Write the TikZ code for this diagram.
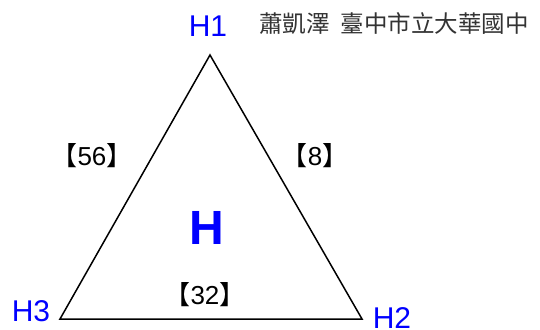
\documentclass[tikz,border=0pt]{standalone}
\usepackage{fontspec}
\setmainfont{Liberation Sans}
\newfontfamily\cjk{Noto Sans CJK TC}
\usetikzlibrary{positioning}

\begin{document}
\begin{tikzpicture}[
    x=1pt, y=-1pt,
    vertex/.style={text=blue, font=\fontsize{30}{32}\selectfont, inner sep=0pt},
    weight/.style={font=\fontsize{26}{28}\selectfont, inner sep=0pt},
    side/.style={line width=1.5pt, line join=miter}
]
\useasboundingbox (0,0) rectangle (540,329);
\coordinate (h1) at (210,55);
\coordinate (h2) at (362,319);
\coordinate (h3) at (60,319);

\node[vertex] (l1) at (208,26) {H1};
\node[vertex] (l2) at (392,318) {H2};
\node[vertex] (l3) at (31,311) {H3};
\node[text=blue, font=\fontsize{48}{50}\selectfont\bfseries, inner sep=0pt] (center) at (207,228) {H};
\node[font=\cjk\fontsize{23.5}{25}\selectfont, text=black!80, inner sep=0pt] (author) at (394,24) {蕭凱澤\ \ 臺中市立大華國中};

\node[weight] (w13) at (92,156) {{\cjk 【}56{\cjk 】}};
\node[weight] (w12) at (315,156) {{\cjk 【}8{\cjk 】}};
\node[weight] (w23) at (205,295) {{\cjk 【}32{\cjk 】}};

\draw[side] (h1) -- (h2) -- (h3) -- cycle;
\end{tikzpicture}
\end{document}
